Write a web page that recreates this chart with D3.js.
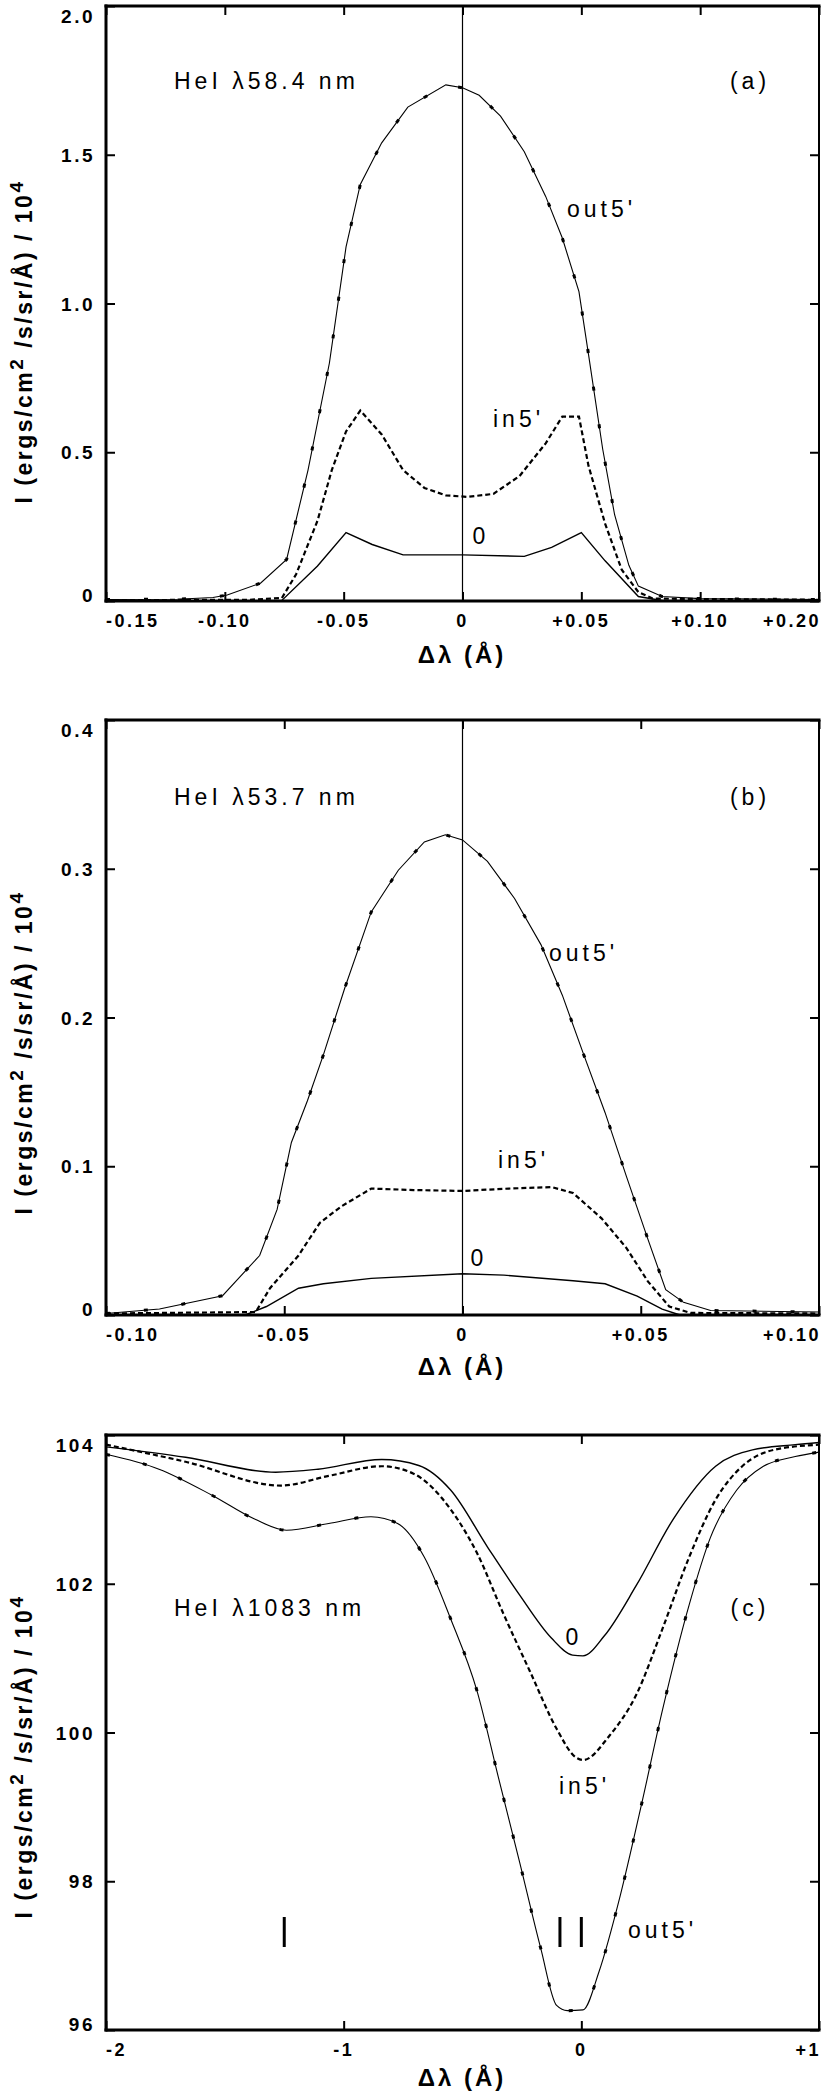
<!DOCTYPE html>
<html>
<head>
<meta charset="UTF-8">
<title>HeI line profiles</title>
<script src="https://cdn.jsdelivr.net/npm/d3@7"></script>
<style>
body { margin:0; background:#fff; }
text { font-family:"Liberation Sans", Arial, sans-serif; fill:#000; }
.tick line { stroke:#000; stroke-width:2px; }
.domain { display:none; }
</style>
</head>
<body>
<svg id="fig" width="830" height="2093"></svg>
<script>
// panel (a) HeI 58.4 nm
const aXTicks = [-0.15, -0.10, -0.05, 0, 0.05, 0.10, 0.15];
const aXLabels = ["-0.15", "-0.10", "-0.05", "0", "+0.05", "+0.10", "+0.20"];
const aYTicks = [0, 0.5, 1.0, 1.5, 2.0];
const aYLabels = ["0", "0.5", "1.0", "1.5", "2.0"];
const aOut = [[-0.15,0.005],[-0.12,0.006],[-0.105,0.012],[-0.099,0.02],[-0.085,0.06],[-0.074,0.14],
  [-0.065,0.44],[-0.056,0.80],[-0.049,1.19],[-0.043,1.40],[-0.034,1.54],[-0.023,1.66],[-0.007,1.735],
  [0,1.725],[0.007,1.70],[0.016,1.63],[0.026,1.51],[0.035,1.36],[0.042,1.22],[0.049,1.04],[0.053,0.83],
  [0.059,0.51],[0.064,0.29],[0.070,0.12],[0.074,0.05],[0.084,0.015],[0.10,0.008],[0.15,0.005]];
const aIn = [[-0.15,0.003],[-0.09,0.004],[-0.076,0.01],[-0.07,0.09],[-0.061,0.27],[-0.055,0.44],
  [-0.049,0.57],[-0.043,0.64],[-0.034,0.56],[-0.025,0.44],[-0.016,0.38],[-0.007,0.355],[0.002,0.35],
  [0.013,0.36],[0.024,0.42],[0.035,0.53],[0.042,0.62],[0.049,0.62],[0.053,0.455],[0.06,0.26],
  [0.067,0.105],[0.074,0.03],[0.08,0.008],[0.15,0.004]];
const aZero = [[-0.085,0],[-0.076,0.002],[-0.061,0.118],[-0.049,0.23],[-0.038,0.19],[-0.025,0.155],
  [0,0.155],[0.026,0.15],[0.0375,0.18],[0.05,0.23],[0.06,0.135],[0.074,0.015],[0.085,0]];

// panel (b) HeI 53.7 nm
const bXTicks = [-0.10, -0.05, 0, 0.05, 0.10];
const bXLabels = ["-0.10", "-0.05", "0", "+0.05", "+0.10"];
const bYTicks = [0, 0.1, 0.2, 0.3, 0.4];
const bYLabels = ["0", "0.1", "0.2", "0.3", "0.4"];
const bOut = [[-0.10,0.001],[-0.085,0.004],[-0.0673,0.013],[-0.0569,0.04],[-0.052,0.071],[-0.048,0.116],
  [-0.0435,0.144],[-0.039,0.175],[-0.033,0.22],[-0.0256,0.271],[-0.018,0.299],[-0.0107,0.318],
  [-0.0048,0.3228],[0,0.3194],[0.007,0.305],[0.0146,0.28],[0.022,0.249],[0.028,0.215],[0.034,0.175],
  [0.040,0.136],[0.046,0.093],[0.052,0.051],[0.057,0.017],[0.062,0.0085],[0.0696,0.003],[0.10,0.002]];
const bIn = [[-0.10,0.001],[-0.058,0.002],[-0.054,0.018],[-0.046,0.04],[-0.040,0.062],[-0.034,0.073],
  [-0.0256,0.085],[-0.0137,0.084],[0,0.0834],[0.013,0.085],[0.025,0.086],[0.031,0.082],[0.039,0.065],
  [0.046,0.045],[0.052,0.0226],[0.058,0.0057],[0.064,0.0014],[0.10,0.001]];
const bZero = [[-0.061,0],[-0.055,0.0057],[-0.046,0.018],[-0.039,0.021],[-0.0256,0.0246],[0,0.0277],
  [0.0116,0.0268],[0.031,0.023],[0.040,0.021],[0.049,0.0127],[0.056,0.004],[0.061,0]];

// panel (c) HeI 1083 nm
const cXTicks = [-2, -1, 0, 1];
const cXLabels = ["-2", "-1", "0", "+1"];
const cYTicks = [96, 98, 100, 102, 104];
const cYLabels = ["96", "98", "100", "102", "104"];
const cOut = [[-2,103.74],[-1.777,103.54],[-1.554,103.19],[-1.375,102.87],[-1.241,102.72],[-1.063,102.81],
  [-0.885,102.9],[-0.773,102.81],[-0.661,102.36],[-0.55,101.53],[-0.439,100.56],[-0.35,99.41],
  [-0.26,98.26],[-0.171,97.10],[-0.104,96.33],[-0.059,96.26],[0.007,96.27],[0.074,96.78],[0.164,97.81],
  [0.253,99.03],[0.342,100.31],[0.454,101.72],[0.543,102.62],[0.654,103.26],[0.766,103.58],
  [0.9,103.71],[1,103.77]];
const cIn = [[-2,103.87],[-1.665,103.64],[-1.264,103.32],[-1.063,103.45],[-0.84,103.58],[-0.706,103.48],
  [-0.55,103.0],[-0.44,102.42],[-0.327,101.59],[-0.216,100.82],[-0.104,100.05],[-0.025,99.67],
  [0.007,99.63],[0.119,99.96],[0.23,100.5],[0.342,101.4],[0.454,102.36],[0.565,103.13],[0.677,103.58],
  [0.81,103.80],[1,103.87]];
const cZero = [[-2,103.84],[-1.665,103.70],[-1.286,103.5],[-1.108,103.54],[-0.84,103.67],[-0.684,103.59],
  [-0.55,103.26],[-0.394,102.49],[-0.26,101.85],[-0.126,101.27],[-0.037,101.04],[0.007,101.03],
  [0.097,101.30],[0.23,101.97],[0.387,102.87],[0.565,103.58],[0.72,103.80],[0.9,103.87],[1,103.9]];
const cMarks = [-1.25, -0.09, 0];   // triplet component positions

const svg = d3.select("#fig");
const L = 106, R = 819, H = 595;

function panel(o) {
  const g = svg.append("g").attr("transform", `translate(0,${o.top})`);
  const x = d3.scaleLinear().domain(o.xd).range([L, R]);
  const y = d3.scaleLinear().domain(o.yd).range([H, 0]);

  // inward ticks on all four sides
  g.append("g").attr("transform", `translate(0,${H})`)
    .call(d3.axisBottom(x).tickValues(o.xt).tickSize(-9).tickFormat(""));
  g.append("g").call(d3.axisTop(x).tickValues(o.xt).tickSize(-9).tickFormat(""));
  g.append("g").attr("transform", `translate(${L},0)`)
    .call(d3.axisLeft(y).tickValues(o.yt).tickSize(-9).tickFormat(""));
  g.append("g").attr("transform", `translate(${R},0)`)
    .call(d3.axisRight(y).tickValues(o.yt).tickSize(-9).tickFormat(""));

  // frame
  const fr = [[L,0,R,0,3],[L,H,R,H,3],[L,0,L,H,3],[R,0,R,H,2]];
  g.selectAll(".fr").data(fr).enter().append("line")
    .attr("x1", d=>d[0]).attr("y1", d=>d[1]).attr("x2", d=>d[2]).attr("y2", d=>d[3])
    .attr("stroke", "#000").attr("stroke-width", d=>d[4]).attr("stroke-linecap", "square");

  if (o.zeroLine) g.append("line").attr("x1", x(0)).attr("x2", x(0)).attr("y1", 0).attr("y2", H)
    .attr("stroke", "#000").attr("stroke-width", 1.2);

  // tick labels
  const n = o.xt.length;
  g.selectAll(".xl").data(o.xt).enter().append("text")
    .attr("x", (d,i)=> i==0 ? L : i==n-1 ? R + 2 : x(d)).attr("y", H + 26)
    .attr("text-anchor", (d,i)=> i==0 ? "start" : i==n-1 ? "end" : "middle")
    .attr("font-size", 18).attr("font-weight", "bold").attr("letter-spacing", 2.5).text((d,i)=>o.xl[i]);
  const m = o.yt.length;
  g.selectAll(".yl").data(o.yt).enter().append("text")
    .attr("x", 95).attr("y", (d,i)=> y(d) + (i==0 ? 1 : i==m-1 ? 17 : 7))
    .attr("text-anchor", "end").attr("font-size", 19).attr("font-weight", "bold")
    .attr("letter-spacing", 2.5).text((d,i)=>o.yl[i]);

  // axis titles
  g.append("text").attr("x", 462).attr("y", H + o.xtOff).attr("text-anchor", "middle")
    .attr("font-size", 24).attr("font-weight", "bold").attr("letter-spacing", 3).text("Δλ (Å)");
  const yt = g.append("text").attr("transform", `translate(32,${H/2 + o.ylOff}) rotate(-90)`)
    .attr("text-anchor", "middle").attr("font-size", 23).attr("font-weight", "bold")
    .attr("letter-spacing", 2.5);
  yt.append("tspan").text("I (ergs/cm");
  yt.append("tspan").attr("dy", -9).attr("font-size", 19).text("2");
  yt.append("tspan").attr("dy", 9).text(" /s/sr/Å) / 10");
  yt.append("tspan").attr("dy", -9).attr("font-size", 19).text("4");

  // curves
  const line = d3.line().x(d=>x(d[0])).y(d=>y(d[1])).curve(o.curve);
  const s = o.series;
  g.append("path").attr("d", line(s.zero)).attr("fill", "none").attr("stroke", "#000").attr("stroke-width", 1.4);
  g.append("path").attr("d", line(s.inn)).attr("fill", "none").attr("stroke", "#000")
    .attr("stroke-width", 2.2).attr("stroke-dasharray", "5,3");
  g.append("path").attr("d", line(s.out)).attr("fill", "none").attr("stroke", "#000").attr("stroke-width", 1.1);
  g.append("path").attr("d", line(s.out)).attr("fill", "none").attr("stroke", "#000")
    .attr("stroke-width", 3).attr("stroke-dasharray", "4,34");

  // annotations
  g.selectAll(".ann").data(o.ann).enter().append("text")
    .attr("x", d=>d[1]).attr("y", d=>d[2] + 8).attr("text-anchor", d=>d[3])
    .attr("font-size", 23).attr("letter-spacing", 4).text(d=>d[0]);

  return {g, x, y};
}

panel({top:6, xd:[-0.15,0.15], yd:[0,2], xt:aXTicks, xl:aXLabels, yt:aYTicks, yl:aYLabels,
  zeroLine:true, ylOff:38, xtOff:62, curve:d3.curveLinear, series:{out:aOut, inn:aIn, zero:aZero},
  ann:[["HeI λ58.4 nm",174,75,"start"],["(a)",750,75,"middle"],["out5'",567,203,"start"],
       ["in5'",493,413,"start"],["0",481,530,"middle"]]});

panel({top:720, xd:[-0.1,0.1], yd:[0,0.4], xt:bXTicks, xl:bXLabels, yt:bYTicks, yl:bYLabels,
  zeroLine:true, ylOff:35, xtOff:60, curve:d3.curveLinear, series:{out:bOut, inn:bIn, zero:bZero},
  ann:[["HeI λ53.7 nm",174,77,"start"],["(b)",750,77,"middle"],["out5'",549,233,"start"],
       ["in5'",498,440,"start"],["0",479,538,"middle"]]});

const pc = panel({top:1435, xd:[-2,1], yd:[96,104], xt:cXTicks, xl:cXLabels, yt:cYTicks, yl:cYLabels,
  zeroLine:false, ylOff:24, xtOff:56, curve:d3.curveMonotoneX, series:{out:cOut, inn:cIn, zero:cZero},
  ann:[["HeI λ1083 nm",174,173,"start"],["(c)",750,173,"middle"],["0",574,202,"middle"],
       ["in5'",559,351,"start"],["out5'",628,495,"start"]]});

pc.g.selectAll(".mk").data(cMarks).enter().append("line")
  .attr("x1", d=>pc.x(d)).attr("x2", d=>pc.x(d)).attr("y1", 482).attr("y2", 512)
  .attr("stroke", "#000").attr("stroke-width", 3);
</script>
</body>
</html>
